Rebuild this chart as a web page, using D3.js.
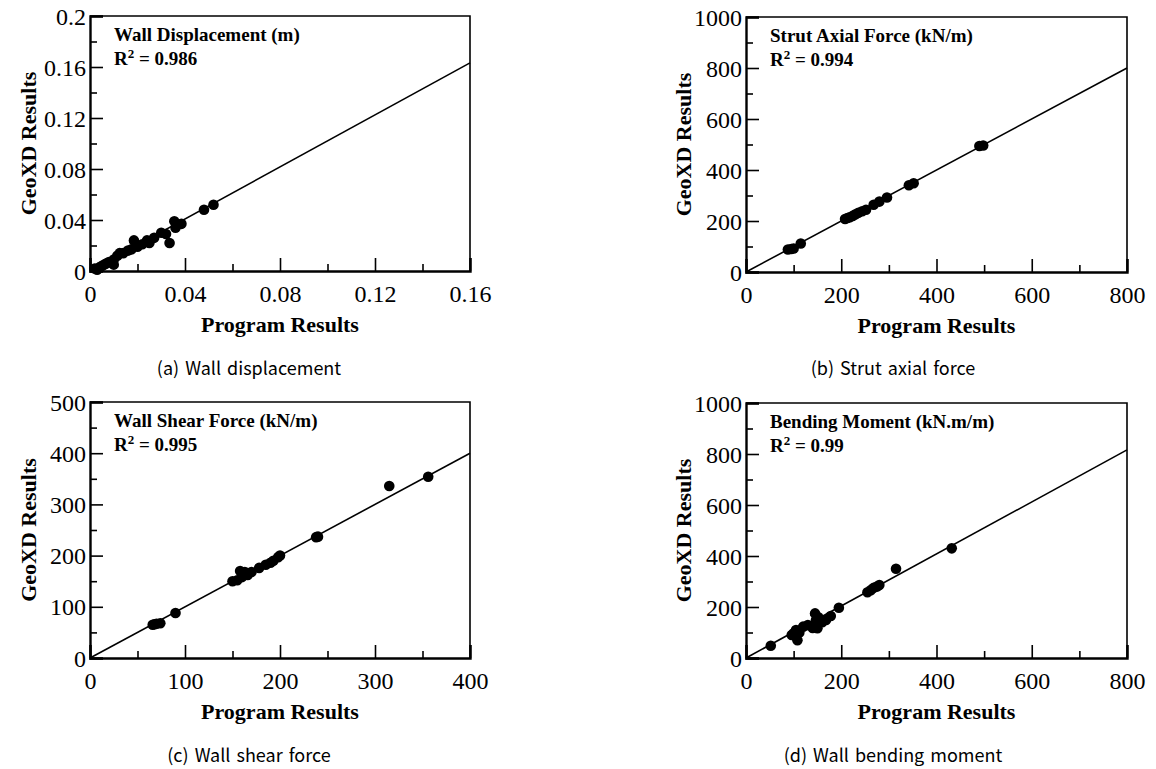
<!DOCTYPE html>
<html><head><meta charset="utf-8">
<script src="https://cdn.jsdelivr.net/npm/d3@7"></script>
<style>body{margin:0;background:#fff}svg{display:block}</style>
</head><body>
<svg id="c" width="1156" height="769"></svg>
<script>
// ---- Data ----
const wallDispX = [0.002,0.003,0.004,0.005,0.006,0.007,0.008,0.010,0.010,0.0115,0.0125,0.014,0.016,0.0175,0.0185,0.020,0.022,0.024,0.025,0.027,0.030,0.032,0.0335,0.0355,0.036,0.0385,0.048,0.052];
const wallDispY = [0.002,0.001,0.003,0.004,0.005,0.006,0.007,0.009,0.005,0.012,0.014,0.014,0.016,0.017,0.024,0.019,0.021,0.024,0.022,0.026,0.030,0.029,0.022,0.039,0.034,0.037,0.048,0.052];
const strutX = [88,95,100,115,208,213,218,224,230,236,244,252,268,280,296,342,352,490,498];
const strutY = [88,90,92,112,208,212,215,220,226,232,238,244,264,276,292,340,348,494,496];
const shearX = [66,68,70,74,90,150,155,158,160,163,166,170,178,185,190,193,198,200,238,240,315,356];
const shearY = [65,66,67,68,88,150,152,170,158,168,162,168,176,182,186,190,197,200,236,237,336,354];
const momentX = [52,96,100,105,108,112,120,130,140,145,147,150,152,160,168,178,195,255,262,268,275,280,315,432];
const momentY = [48,90,97,110,70,100,123,129,118,175,149,117,160,140,149,165,197,258,266,275,280,286,350,430];

const panels = [
  {id:"a", xs:wallDispX, ys:wallDispY, xMax:0.16, yMax:0.2, xTicks:[0,0.04,0.08,0.12,0.16], yTicks:[0,0.04,0.08,0.12,0.16,0.2],
   xMinor:[0.02,0.06,0.10,0.14], yMinor:[0.02,0.06,0.10,0.14,0.18], fit:1.02,
   title:"Wall Displacement (m)", r2:"0.986", caption:"(a) Wall displacement", fmt:d=>d===0?"0":String(d)},
  {id:"b", xs:strutX, ys:strutY, xMax:800, yMax:1000, xTicks:[0,200,400,600,800], yTicks:[0,200,400,600,800,1000],
   xMinor:[100,300,500,700], yMinor:[100,300,500,700,900], fit:1.0,
   title:"Strut Axial Force (kN/m)", r2:"0.994", caption:"(b) Strut axial force", fmt:d=>String(d)},
  {id:"c", xs:shearX, ys:shearY, xMax:400, yMax:500, xTicks:[0,100,200,300,400], yTicks:[0,100,200,300,400,500],
   xMinor:[50,150,250,350], yMinor:[50,150,250,350,450], fit:1.0,
   title:"Wall Shear Force (kN/m)", r2:"0.995", caption:"(c) Wall shear force", fmt:d=>String(d)},
  {id:"d", xs:momentX, ys:momentY, xMax:800, yMax:1000, xTicks:[0,200,400,600,800], yTicks:[0,200,400,600,800,1000],
   xMinor:[100,300,500,700], yMinor:[100,300,500,700,900], fit:1.02,
   title:"Bending Moment (kN.m/m)", r2:"0.99", caption:"(d) Wall bending moment", fmt:d=>String(d)}
];

// ---- Layout ----
const boxes = {
  a:{x0:90, x1:470, y0:16, y1:271, capX:249, capY:375, ytX:36},
  b:{x0:746, x1:1127, y0:17, y1:272, capX:893, capY:375, ytX:691},
  c:{x0:90, x1:470, y0:402, y1:658, capX:249, capY:762, ytX:36},
  d:{x0:746, x1:1127, y0:403, y1:658, capX:893, capY:762, ytX:691}
};

const svg = d3.select("#c");
const serif = "'Liberation Serif','Times New Roman',Times,serif";

panels.forEach(p => {
  const b = boxes[p.id];
  const x = d3.scaleLinear().domain([0,p.xMax]).range([b.x0,b.x1]);
  const y = d3.scaleLinear().domain([0,p.yMax]).range([b.y1,b.y0]);
  const g = svg.append("g");

  // frame top/right
  g.append("path").attr("d",`M${b.x0},${b.y0}H${b.x1}V${b.y1}`).attr("fill","none").attr("stroke","#000").attr("stroke-width",1.6);

  // minor ticks
  const xm = g.append("g").attr("transform",`translate(0,${b.y1})`)
    .call(d3.axisBottom(x).tickValues(p.xMinor).tickSize(-7).tickFormat(""));
  const ym = g.append("g").attr("transform",`translate(${b.x0},0)`)
    .call(d3.axisLeft(y).tickValues(p.yMinor).tickSize(-7).tickFormat(""));
  [xm,ym].forEach(a=>{a.select(".domain").remove(); a.selectAll("line").attr("stroke","#000").attr("stroke-width",1.6);});

  // major axes
  const xa = g.append("g").attr("transform",`translate(0,${b.y1})`)
    .call(d3.axisBottom(x).tickValues(p.xTicks).tickSize(-13).tickFormat(p.fmt));
  const ya = g.append("g").attr("transform",`translate(${b.x0},0)`)
    .call(d3.axisLeft(y).tickValues(p.yTicks).tickSize(-13).tickFormat(p.fmt));
  [xa,ya].forEach(a=>{
    a.attr("font-family",serif).attr("font-size",24);
    a.select(".domain").attr("stroke","#000").attr("stroke-width",2.4);
    a.selectAll("line").attr("stroke","#000").attr("stroke-width",1.6);
    a.selectAll("text").style("font-family",serif).style("font-size","24px").attr("fill","#000");
  });
  xa.selectAll("text").attr("dy","0").attr("y",31);
  ya.selectAll("text").attr("x",-4).attr("dy","0.34em");

  // fit line
  g.append("line").attr("x1",x(0)).attr("y1",y(0)).attr("x2",x(p.xMax)).attr("y2",y(p.xMax*p.fit))
    .attr("stroke","#000").attr("stroke-width",1.6);

  // points
  g.selectAll("circle.pt").data(p.xs.map((v,i)=>[v,p.ys[i]])).join("circle")
    .attr("cx",d=>x(d[0])).attr("cy",d=>y(d[1])).attr("r",5.3).attr("fill","#000");

  // annotations
  g.append("text").attr("x",b.x0+24).attr("y",b.y0+25).style("font-family",serif).attr("font-weight","bold")
    .style("font-size","19px").text(p.title);
  const r = g.append("text").attr("x",b.x0+24).attr("y",b.y0+49).style("font-family",serif).attr("font-weight","bold").style("font-size","19px");
  r.append("tspan").text("R");
  r.append("tspan").attr("dy",-7).style("font-size","13px").text("2");
  r.append("tspan").attr("dy",7).text(" = " + p.r2);

  // axis titles
  g.append("text").attr("x",(b.x0+b.x1)/2).attr("y",b.y1+61).attr("text-anchor","middle")
    .style("font-family",serif).attr("font-weight","bold").style("font-size","22px").text("Program Results");
  g.append("text").attr("transform",`translate(${b.ytX},${(b.y0+b.y1)/2}) rotate(-90)`).attr("text-anchor","middle")
    .style("font-family",serif).attr("font-weight","bold").style("font-size","22px").text("GeoXD Results");

  // caption
  g.append("text").attr("x",b.capX).attr("y",b.capY).attr("text-anchor","middle")
    .style("font-family","'Noto Sans CJK KR','Noto Sans',sans-serif").style("font-size","18px").style("word-spacing","2px").text(p.caption);
});
</script>
</body></html>
